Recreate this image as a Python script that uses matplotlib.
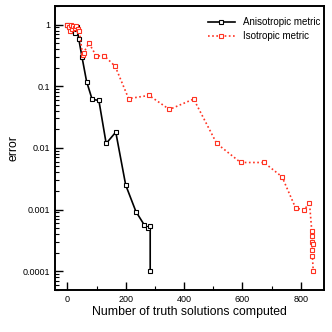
import matplotlib
matplotlib.use("Agg")
import matplotlib.pyplot as plt
from matplotlib.ticker import FixedLocator, LogLocator, NullFormatter

plt.rcParams["font.family"] = ["Liberation Sans", "DejaVu Sans"]

# anisotropic metric run
aniso_n = [0, 5, 10, 15, 20, 25, 32, 39, 50, 66, 85, 108, 133, 166, 200, 235, 264, 276, 284, 284]
aniso_err = [1.0, 0.95, 0.88, 0.8, 0.92, 0.73, 0.9, 0.59, 0.30, 0.119, 0.061, 0.059, 0.0118, 0.018,
             0.0025, 0.00093, 0.00056, 0.00051, 0.00054, 0.0001]

# isotropic metric run
iso_n = [0, 4, 8, 12, 16, 20, 25, 30, 35, 41, 52, 56, 74, 99, 127, 164, 210, 280, 350, 433,
         512, 594, 674, 736, 783, 813, 830, 838, 840, 839, 841, 838, 840, 843]
iso_err = [1.0, 0.9, 0.78, 1.0, 0.85, 0.95, 0.88, 0.95, 0.85, 0.80, 0.32, 0.35, 0.50, 0.31, 0.31,
           0.21, 0.063, 0.071, 0.042, 0.062, 0.0118, 0.0058, 0.0058, 0.0034, 0.00105, 0.001,
           0.0013, 0.00045, 0.00038, 0.0003, 0.00028, 0.00022, 0.00018, 0.0001]

red = "#ff3322"

fig = plt.figure(figsize=(3.32, 3.32), dpi=100)
ax = fig.add_axes([0.166, 0.127, 0.81, 0.855])

ax.plot(aniso_n, aniso_err, color="black", lw=1.2, marker="s", ms=2.2,
        mfc="white", mec="black", mew=0.8, label="Anisotropic metric")
ax.plot(iso_n, iso_err, color=red, lw=1.2, ls=(0, (1, 1.5)), marker="s", ms=2.2,
        mfc="white", mec=red, mew=0.8, label="Isotropic metric")

ax.set_yscale("log")
ax.set_xlim(-42, 880)
ax.set_ylim(5e-5, 2.0)

ax.xaxis.set_major_locator(FixedLocator([0, 200, 400, 600, 800]))
ax.xaxis.set_minor_locator(FixedLocator([100, 300, 500, 700]))
ax.yaxis.set_major_locator(FixedLocator([1e-4, 1e-3, 1e-2, 1e-1, 1]))
ax.yaxis.set_minor_locator(LogLocator(base=10, subs=range(2, 10)))
ax.yaxis.set_minor_formatter(NullFormatter())
ax.set_yticklabels(["0.0001", "0.001", "0.01", "0.1", "1"])

ax.tick_params(which="both", direction="in", top=False, right=False, labelsize=6.5)
ax.tick_params(which="major", length=6, width=1)
ax.tick_params(which="minor", length=3, width=0.8)
for s in ax.spines.values():
    s.set_linewidth(1.4)

ax.set_xlabel("Number of truth solutions computed", fontsize=8.8, labelpad=2)
ax.set_ylabel("error", fontsize=8.8, labelpad=2)

ax.legend(loc="upper right", bbox_to_anchor=(1.01, 0.985), frameon=False, fontsize=7,
          handlelength=2.8, borderaxespad=0.3, labelspacing=0.45)

fig.savefig("out.png", dpi=100)
